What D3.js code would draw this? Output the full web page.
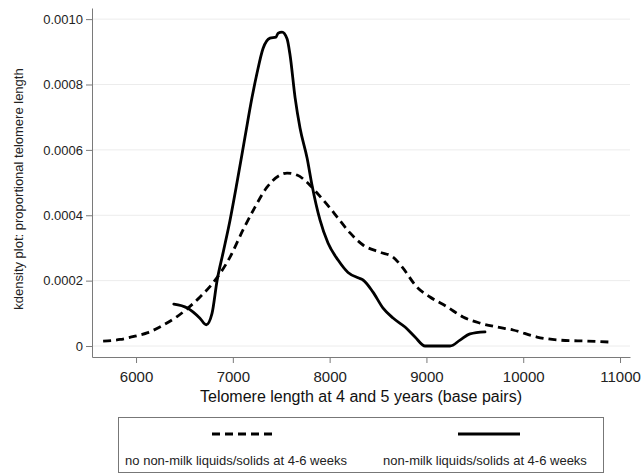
<!DOCTYPE html>
<html>
<head>
<meta charset="utf-8">
<script src="https://cdn.jsdelivr.net/npm/d3@7"></script>
<style>
  body { margin: 0; background: #fff; }
  svg { display: block; font-family: "Liberation Sans", Arial, sans-serif; }
</style>
</head>
<body>
<svg id="chart" width="642" height="475"></svg>
<script>
// Data (x: telomere length in base pairs, y: kernel density)
const xTicks = [6000, 7000, 8000, 9000, 10000, 11000];
const yTicks = [0, 0.0002, 0.0004, 0.0006, 0.0008, 0.0010];
const yTickLabels = ["0", "0.0002", "0.0004", "0.0006", "0.0008", "0.0010"];

const noMilkX = [5660, 5835, 5990, 6114, 6269, 6424, 6548, 6661, 6795, 6971, 7105, 7229, 7353, 7488, 7560, 7663, 7777, 7870, 8004, 8076, 8211, 8345, 8521, 8655, 8748, 8903, 9037, 9213, 9378, 9554, 9729, 9895, 10142, 10380, 10659, 10897];
const noMilkY = [0.000015, 0.00002, 0.00003, 0.00004, 0.000062, 0.00009, 0.000119, 0.00015, 0.000193, 0.000272, 0.000355, 0.000425, 0.000486, 0.000523, 0.000529, 0.000523, 0.000498, 0.000468, 0.000422, 0.000395, 0.000346, 0.000309, 0.000287, 0.000272, 0.000242, 0.00018, 0.00015, 0.00012, 0.0000887, 0.00007, 0.000058, 0.000049, 0.0000275, 0.000018, 0.000015, 0.000012];

const milkX = [6390, 6530, 6660, 6725, 6785, 6837, 6899, 6971, 7043, 7126, 7198, 7250, 7312, 7384, 7446, 7467, 7508, 7560, 7591, 7643, 7694, 7767, 7818, 7901, 7983, 8087, 8190, 8300, 8345, 8448, 8552, 8655, 8779, 8882, 8986, 9244, 9347, 9450, 9605];
const milkY = [0.000128, 0.000116, 0.000085, 0.000065, 0.0001, 0.0002, 0.000285, 0.000385, 0.0005, 0.00064, 0.00076, 0.000835, 0.00091, 0.000942, 0.000945, 0.000957, 0.00096, 0.00094, 0.00089, 0.00076, 0.000667, 0.000575, 0.000492, 0.000385, 0.000315, 0.000263, 0.000225, 0.000208, 0.000202, 0.000165, 0.000116, 0.0000856, 0.000058, 0.0000275, 0, 0, 0.000018, 0.000037, 0.000043];

const seriesNames = ["no non-milk liquids/solids at 4-6 weeks", "non-milk liquids/solids at 4-6 weeks"];
const xTitle = "Telomere length at 4 and 5 years (base pairs)";
const yTitle = "kdensity plot: proportional telomere length";

const svg = d3.select("#chart");
const axisColor = "#7a7a7a";

const x = d3.scaleLinear().domain([5545, 11103]).range([92, 630]);
const y = d3.scaleLinear().domain([-0.0000336, 0.001034]).range([357, 8]);

// gridlines
svg.append("g").selectAll("line").data(yTicks).join("line")
  .attr("x1", 92).attr("x2", 630)
  .attr("y1", d => y(d)).attr("y2", d => y(d))
  .attr("stroke", "#ececec").attr("stroke-width", 1);

// y axis
const yAxis = svg.append("g").attr("transform", "translate(92,0)")
  .call(d3.axisLeft(y).tickValues(yTicks).tickFormat((d, i) => yTickLabels[i]).tickSize(6).tickPadding(3).tickSizeOuter(0));
yAxis.select(".domain").attr("stroke", axisColor);
yAxis.selectAll(".tick line").attr("stroke", axisColor);
yAxis.selectAll("text").attr("font-size", 13).attr("fill", "#222").attr("font-family", "Liberation Sans, Arial, sans-serif");

// x axis
const xAxis = svg.append("g").attr("transform", "translate(0,357)")
  .call(d3.axisBottom(x).tickValues(xTicks).tickFormat(d3.format("d")).tickSize(6).tickPadding(8).tickSizeOuter(0));
xAxis.select(".domain").attr("stroke", axisColor);
xAxis.selectAll(".tick line").attr("stroke", axisColor);
xAxis.selectAll("text").attr("font-size", 15).attr("fill", "#222").attr("font-family", "Liberation Sans, Arial, sans-serif");

// titles
svg.append("text").attr("x", 361).attr("y", 402).attr("text-anchor", "middle")
  .attr("font-size", 16).attr("fill", "#111").text(xTitle);
svg.append("text").attr("transform", "translate(23,189) rotate(-90)").attr("text-anchor", "middle")
  .attr("font-size", 13).attr("fill", "#222").text(yTitle);

// lines
const line = d3.line().x(d => x(d[0])).y(d => y(d[1])).curve(d3.curveMonotoneX);
const noMilk = noMilkX.map((v, i) => [v, noMilkY[i]]);
const milk = milkX.map((v, i) => [v, milkY[i]]);

svg.append("path").datum(noMilk).attr("d", line)
  .attr("fill", "none").attr("stroke", "#000").attr("stroke-width", 2.8)
  .attr("stroke-dasharray", "8,5");
svg.append("path").datum(milk).attr("d", line)
  .attr("fill", "none").attr("stroke", "#000").attr("stroke-width", 2.8)
  .attr("stroke-linejoin", "round").attr("stroke-linecap", "round");

// legend
const lg = svg.append("g");
lg.append("rect").attr("x", 118.5).attr("y", 417.5).attr("width", 485).attr("height", 55)
  .attr("fill", "#fff").attr("stroke", "#777").attr("stroke-width", 1);
lg.append("line").attr("x1", 212).attr("x2", 274).attr("y1", 434).attr("y2", 434)
  .attr("stroke", "#000").attr("stroke-width", 3).attr("stroke-dasharray", "8,5");
lg.append("line").attr("x1", 458).attr("x2", 520).attr("y1", 434).attr("y2", 434)
  .attr("stroke", "#000").attr("stroke-width", 3);
lg.append("text").attr("x", 236).attr("y", 465).attr("text-anchor", "middle")
  .attr("font-size", 13).attr("fill", "#222").text(seriesNames[0]);
lg.append("text").attr("x", 485).attr("y", 465).attr("text-anchor", "middle")
  .attr("font-size", 13).attr("fill", "#222").text(seriesNames[1]);
</script>
</body>
</html>
